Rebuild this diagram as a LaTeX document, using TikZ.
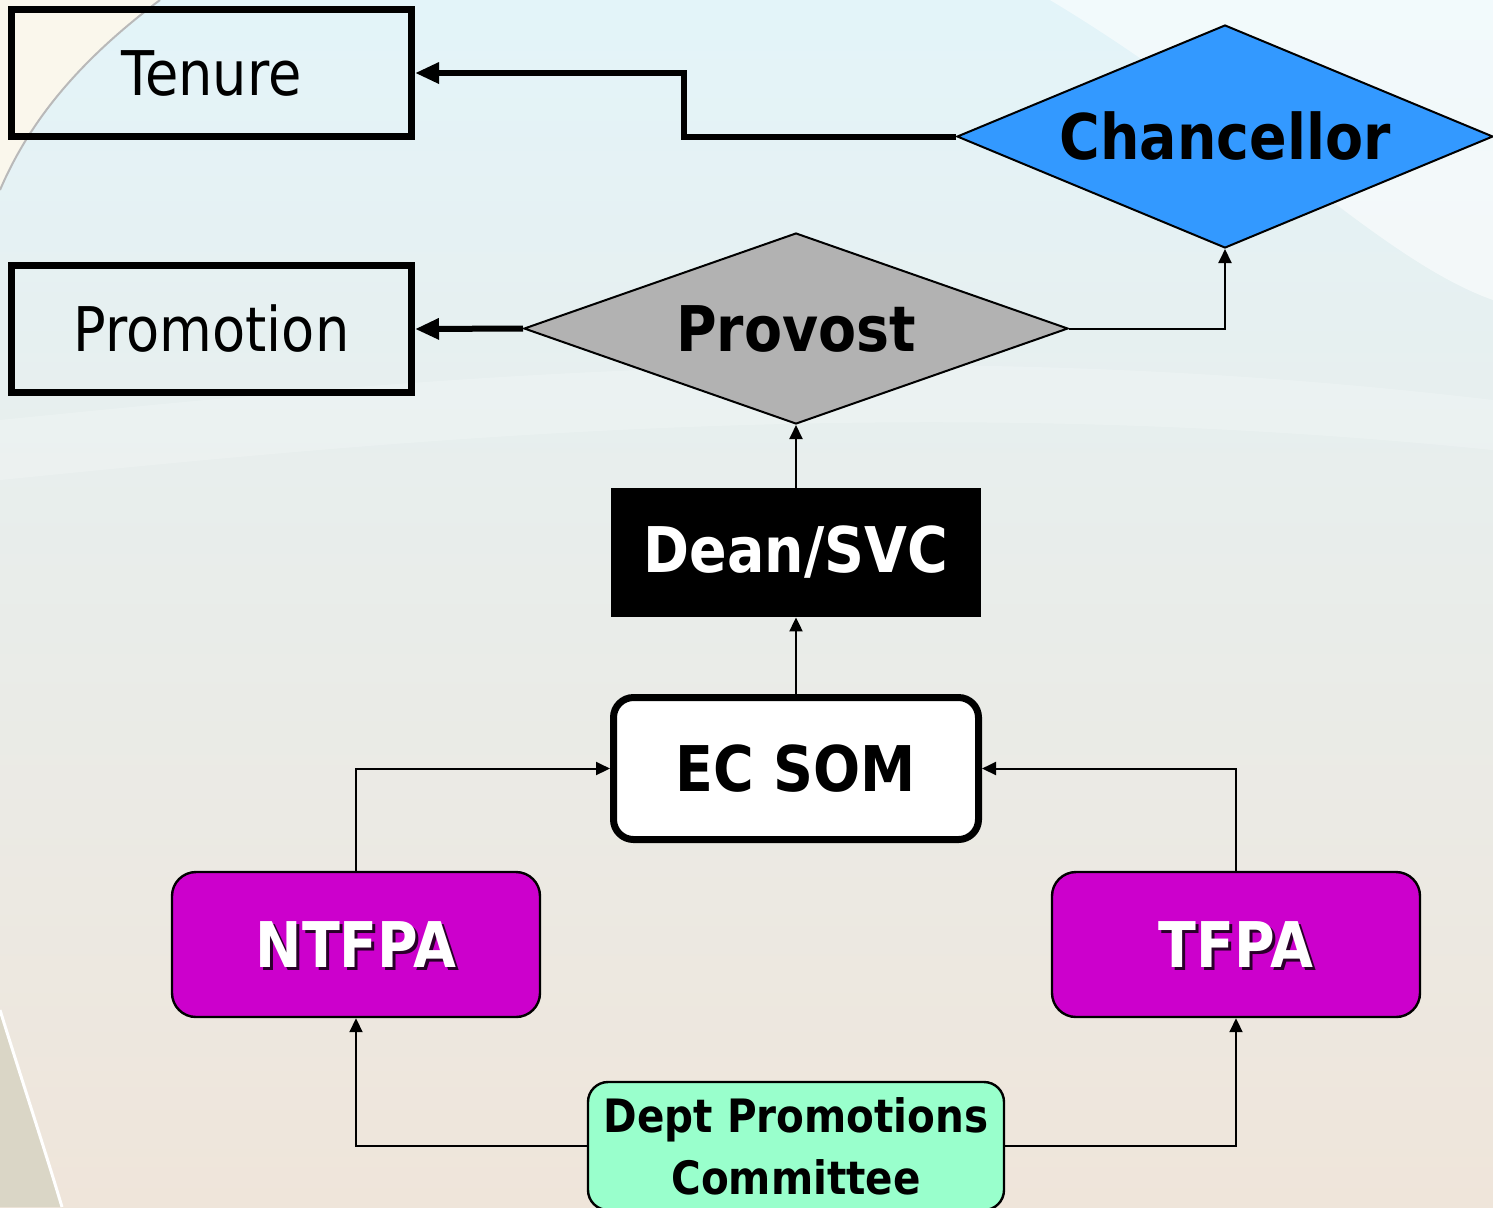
\documentclass[tikz,border=0pt]{standalone}
\usepackage{fontspec}
\setmainfont{DejaVu Sans}[FakeStretch=0.88]
\usetikzlibrary{shapes.geometric,arrows.meta}
\definecolor{bgtop}{HTML}{E3F4F9}
\definecolor{bgmid}{HTML}{F0F6F2}
\definecolor{bgbot}{HTML}{EFE5DA}
\definecolor{chanblue}{HTML}{3399FF}
\definecolor{provgray}{HTML}{B2B2B2}
\definecolor{purplebox}{HTML}{CC00CC}
\definecolor{mintbox}{HTML}{99FFCC}
\definecolor{shadowc}{HTML}{2A002A}
\definecolor{edgec}{HTML}{DAD6C6}
\definecolor{cream}{HTML}{FAF7EC}
\begin{document}
\begin{tikzpicture}[x=0.5pt,y=-0.5pt,
  bigtext/.style={font=\fontsize{31.5}{36}\selectfont\bfseries},
  regtext/.style={font=\fontsize{30.8}{36}\selectfont},
  outbox/.style={draw=black, line width=3.5pt, inner sep=0pt, minimum width=200pt, minimum height=63.5pt, regtext},
  dia/.style={diamond, draw=black, line width=1pt, inner sep=0pt, bigtext},
  purplenode/.style={draw=black, line width=1.2pt, fill=purplebox, rounded corners=12pt, minimum width=184pt, minimum height=72.5pt, inner sep=0pt},
  purpletext/.style={bigtext, text=white, inner sep=0pt},
  shadowtext/.style={bigtext, text=shadowc, inner sep=0pt},
  thin/.style={draw=black, line width=1pt, -{Triangle[width=6.5pt,length=7pt]}},
  thick/.style={draw=black, line width=3pt, -{Triangle[width=10pt,length=12pt]}}
]
\useasboundingbox (0,0) rectangle (1493,1207);
% background
\shade[top color=bgtop, middle color=bgmid, bottom color=bgbot] (0,0) rectangle (1493,1207);
\fill[white, opacity=0.55] (1050,0) .. controls (1250,120) and (1380,260) .. (1493,300) -- (1493,0) -- cycle;
\fill[white, opacity=0.2] (0,420) .. controls (400,380) and (900,330) .. (1493,400) -- (1493,450) .. controls (900,390) and (400,440) .. (0,480) -- cycle;
\fill[cream] (0,0) -- (160,0) .. controls (80,60) and (30,120) .. (0,190) -- cycle;
\draw[gray!55, line width=1pt] (160,0) .. controls (80,60) and (30,120) .. (0,190);
\fill[edgec] (0,1010) .. controls (25,1090) and (45,1150) .. (62,1207) -- (0,1207) -- cycle;
\draw[white, line width=1.5pt] (0,1010) .. controls (25,1090) and (45,1150) .. (62,1207);

% nodes
\node[outbox] (tenure) at (211.5,73) {Tenure};
\node[outbox] (promo) at (211.5,329) {Promotion};
\node[dia, fill=chanblue, shape aspect=2.4, minimum width=268pt, minimum height=111.5pt] (chan) at (1225,136.5) {Chancellor};
\node[dia, fill=provgray, shape aspect=2.85, minimum width=272pt, minimum height=95.5pt] (prov) at (796,328.5) {Provost};
\node[fill=black, text=white, bigtext, minimum width=185pt, minimum height=64.5pt, inner sep=0pt] (dean) at (796,552.5) {Dean/SVC};
\node[draw=black, fill=white, line width=3.5pt, rounded corners=10pt, minimum width=182.5pt, minimum height=71pt, inner sep=0pt, bigtext] (ec) at (796,768.5) {EC SOM};
\node[purplenode] (ntfpa) at (356,944.5) {};
\node[shadowtext] (ntfpash) at (359,947.5) {NTFPA};
\node[purpletext] (ntfpatx) at (356,944.5) {NTFPA};
\node[purplenode] (tfpa) at (1236,944.5) {};
\node[shadowtext] (tfpash) at (1239,947.5) {TFPA};
\node[purpletext] (tfpatx) at (1236,944.5) {TFPA};
\node[draw=black, fill=mintbox, line width=1.2pt, rounded corners=10pt, minimum width=208pt, minimum height=64pt, inner sep=0pt, align=center, font=\fontsize{23}{31}\selectfont\bfseries] (dept) at (796,1146) {Dept Promotions\\Committee};

% connectors
\coordinate (tbend) at (684,136.5);
\draw[thick] (chan.west) -- (tbend) |- (tenure.east);
\draw[thick] (prov.west) -- (promo.east);
\draw[thin] (prov.east) -| (chan.south);
\draw[thin] (dean.north) -- (prov.south);
\draw[thin] (ec.north) -- (dean.south);
\draw[thin] (ntfpa.north) |- (ec.west);
\draw[thin] (tfpa.north) |- (ec.east);
\draw[thin] (dept.west) -| (ntfpa.south);
\draw[thin] (dept.east) -| (tfpa.south);
\end{tikzpicture}
\end{document}
